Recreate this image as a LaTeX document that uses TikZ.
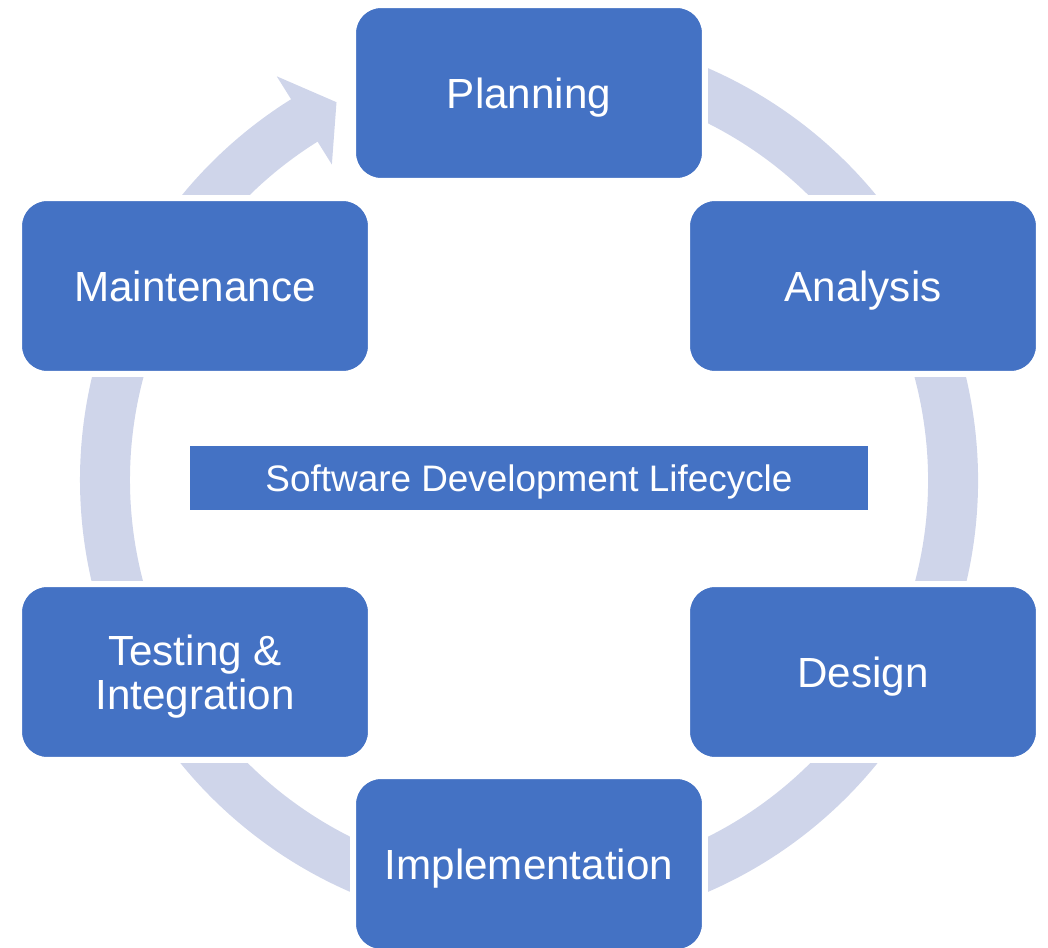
\documentclass[tikz,border=0pt]{standalone}
\usepackage{fontspec}
\setmainfont{Liberation Sans}
\usepackage{tikz}
\usetikzlibrary{positioning}
\definecolor{stage}{RGB}{68,114,196}
\definecolor{ring}{RGB}{207,213,234}
\tikzset{
  phase/.style={draw=white,line width=0.12cm,fill=stage,rounded corners=0.56cm,minimum width=7.04cm,minimum height=3.52cm,text depth=0pt,text=white,align=center,font=\fontsize{24}{25}\selectfont},
  title/.style={fill=stage,minimum width=13.56cm,minimum height=1.28cm,inner sep=0,text depth=0pt,text=white,font=\fontsize{21}{25}\selectfont}
}

\begin{document}
\begin{tikzpicture}[x=0.02cm,y=0.02cm]
\useasboundingbox (0,0) rectangle (1048,947);
%cycle ring
\coordinate (c) at (529,467);
\draw [ring,line width=1cm] (c) ++(100:424) arc[start angle=100,end angle=-238.5,radius=424];
\fill [ring] ([shift={(122:476)}]c) -- ([shift={(117:424)}]c) -- ([shift={(122:372)}]c) -- cycle;

%phases
\node (plan) at (529,854) [phase] {Planning};
\node (analysis) at (863,661) [phase] {Analysis};
\node (design) at (863,275) [phase] {Design};
\node (impl) at (529,83) [phase] {Implementation};
\node (test) at (195,275) [phase] {Testing \&\\Integration};
\node (maint) at (195,661) [phase] {Maintenance};

%title
\node (sdlc) at (529,469) [title] {Software Development Lifecycle};
\end{tikzpicture}
\end{document}
